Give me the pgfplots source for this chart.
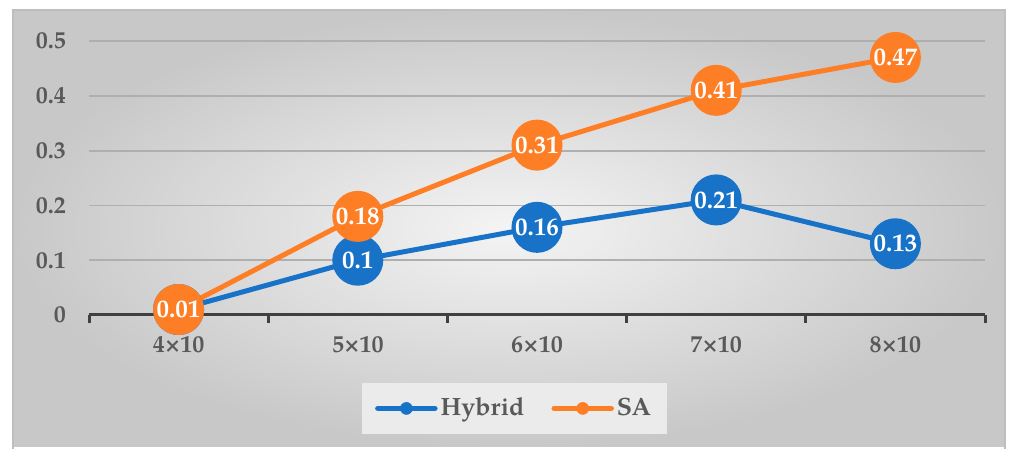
\documentclass[border=0pt]{standalone}
\usepackage{fontspec}
\setmainfont{TeX Gyre Pagella}
\usepackage{pgfplots}
\pgfplotsset{compat=1.18}
\definecolor{cblue}{RGB}{24,115,200}
\definecolor{corange}{RGB}{254,126,38}
\definecolor{txt}{RGB}{89,89,89}
\definecolor{bginner}{RGB}{244,244,244}
\definecolor{bgouter}{RGB}{200,200,200}
\definecolor{bordc}{RGB}{190,190,190}
\definecolor{legbg}{RGB}{235,235,235}
\definecolor{gridc}{RGB}{175,175,175}
\definecolor{axc}{RGB}{64,64,64}
\begin{document}
\begin{tikzpicture}
\fill[white] (0,0) rectangle (506.5pt,223.5pt);
\shade[inner color=bginner, outer color=bgouter] (6.5pt,0pt) rectangle (502.5pt,218.5pt);
\draw[line width=0.6pt, bordc] (6.5pt,-1pt) -- (6.5pt,218.5pt) -- (502.5pt,218.5pt) -- (502.5pt,-1pt);
\fill[legbg] (181pt,6.5pt) rectangle (333.5pt,32pt);
\begin{axis}[
  at={(44.5pt,66pt)}, anchor=south west,
  scale only axis, width=448pt, height=137pt,
  xmin=-0.5, xmax=4.5, ymin=0, ymax=0.5,
  xtick={0,1,2,3,4},
  xticklabels={4×10,5×10,6×10,7×10,8×10},
  extra x ticks={-0.5,0.5,1.5,2.5,3.5,4.5},
  extra x tick labels={},
  extra x tick style={major tick length=4pt, tick align=outside, tick style={line width=1.5pt, axc}},
  ytick={0,0.1,0.2,0.3,0.4,0.5},
  yticklabels={0,0.1,0.2,0.3,0.4,0.5},
  ymajorgrids,
  major grid style={line width=0.9pt, gridc},
  axis x line*=bottom, axis y line*=left,
  y axis line style={draw=none},
  x axis line style={line width=1.5pt, axc},
  major tick length=0pt,
  tick align=outside,
  ytick style={draw=none},
  tick label style={font=\fontsize{12}{14}\selectfont\bfseries, text=txt},
  yticklabel style={xshift=-8pt},
  xticklabel style={yshift=-7pt},
  clip=false,
  point meta=explicit symbolic,
  nodes near coords,
  nodes near coords style={anchor=center, text=white, font=\fontsize{12.5}{14}\selectfont\bfseries, inner sep=0pt},
  legend columns=2,
  legend style={at={(0.475,-0.341)}, anchor=center, draw=none, fill=none,
    font=\fontsize{12.5}{14}\selectfont\bfseries, text=txt,
    nodes={inner xsep=1.5pt},
    /tikz/every even column/.append style={column sep=12pt}},
  legend image code/.code={\draw[mark repeat=2,mark phase=2,#1,mark size=3pt,line width=2.8pt,every mark/.append style={line width=0.3pt}] plot coordinates {(0cm,0cm)(0.5cm,0cm)(1cm,0cm)};},
]
\addplot[cblue, line width=2.5pt, line cap=round, mark=*, mark size=11.5pt, mark options={draw=cblue, fill=cblue}]
  table[x=x, y=y, meta=l] {
x y l
0 0.01 0.01
1 0.10 0.1
2 0.16 0.16
3 0.21 0.21
4 0.13 0.13
};
\addlegendentry{Hybrid}
\addplot[corange, line width=2.5pt, line cap=round, mark=*, mark size=11.5pt, mark options={draw=corange, fill=corange}]
  table[x=x, y=y, meta=l] {
x y l
0 0.01 0.01
1 0.18 0.18
2 0.31 0.31
3 0.41 0.41
4 0.47 0.47
};
\addlegendentry{SA}
\end{axis}
\end{tikzpicture}
\end{document}
